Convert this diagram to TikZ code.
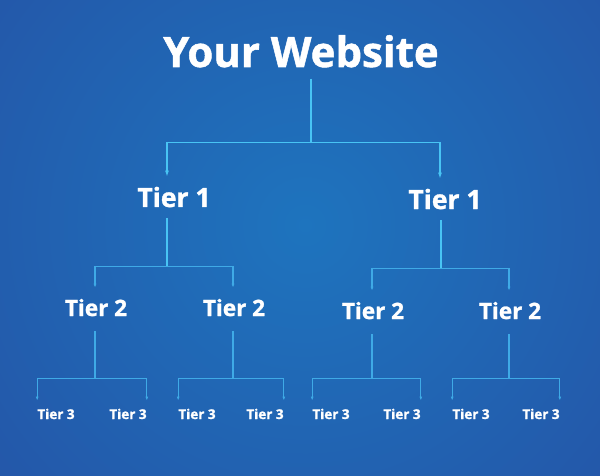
\documentclass[tikz,border=0pt]{standalone}
\usepackage{fontspec}
\setmainfont{Open Sans}[BoldFeatures={FakeBold=1.2}]
\usetikzlibrary{arrows.meta}
\definecolor{bgmid}{HTML}{1E74BE}
\definecolor{bgrim}{HTML}{293D96}
\definecolor{wirebright}{HTML}{48C4F4}
\definecolor{wiresoft}{HTML}{3FAAE6}
\tikzset{
  label/.style={text=white,inner sep=0pt,anchor=base},
  sitelabel/.style={label,font=\fontsize{42}{42}\selectfont\bfseries},
  tierone/.style={label,font=\fontsize{26.5}{27}\selectfont\bfseries},
  tiertwo/.style={label,font=\fontsize{22.5}{23}\selectfont\bfseries},
  tierthree/.style={label,font=\fontsize{13.5}{14}\selectfont\bfseries},
  trunk/.style={draw=wirebright,line width=1.5pt},
  twig/.style={draw=wiresoft,line width=1.1pt}
}

\begin{document}
\begin{tikzpicture}[x=1pt,y=-1pt]
  \useasboundingbox (0,0) rectangle (600,476);
  % background
  \begin{scope}
    \clip (0,0) rectangle (600,476);
    \fill[bgrim] (0,0) rectangle (600,476);
    \shade[inner color=bgmid,outer color=bgrim] (305,225) circle (760);
  \end{scope}
  % labels
  \node[sitelabel] (site) at (301,67) {Your Website};
  \node[tierone] (t1l) at (174,207) {Tier 1};
  \node[tierone] (t1r) at (445,209) {Tier 1};
  \node[tiertwo] (t2a) at (96,316) {Tier 2};
  \node[tiertwo] (t2b) at (234,316) {Tier 2};
  \node[tiertwo] (t2c) at (373,319) {Tier 2};
  \node[tiertwo] (t2d) at (510,319) {Tier 2};
  \foreach \name/\x in {a1/56,a2/128,b1/197,b2/265,c1/331,c2/402,d1/471,d2/541}
    \node[tierthree] (\name) at (\x,419) {Tier 3};
  % top level
  \coordinate (j0) at ([shift={(10,75)}]site.south);
  \draw[trunk] ([shift={(10,11)}]site.south) -- (j0);
  \draw[trunk,-{Latex[length=6pt,width=4pt]}] (j0) -| ([shift={(-7,-10)}]t1l.north);
  \draw[trunk,-{Latex[length=6pt,width=4pt]}] (j0) -| ([shift={(-5,-10)}]t1r.north);
  % tier 1 to tier 2
  \foreach \up/\lo/\hi/\dx in {t1l/t2a/t2b/-7,t1r/t2c/t2d/-4} {
    \coordinate (j1) at ([shift={(\dx,59)}]\up.south);
    \draw[trunk] ([shift={(\dx,11)}]\up.south) -- (j1);
    \draw[twig,-{Latex[length=4pt,width=3pt]}] (j1) -| ([shift={(-1,-11)}]\lo.north);
    \draw[twig,-{Latex[length=4pt,width=3pt]}] (j1) -| ([shift={(-1,-11)}]\hi.north);
  }
  % tier 2 to tier 3
  \foreach \up/\lo/\hi/\dy in {t2a/a1/a2/62,t2b/b1/b2/62,t2c/c1/c2/59,t2d/d1/d2/59} {
    \coordinate (j2) at ([shift={(-1,\dy)}]\up.south);
    \draw[twig] ([shift={(-1,15)}]\up.south) -- (j2);
    \draw[twig,-{Latex[length=4pt,width=3pt]}] (j2) -| ([shift={(0,-8)}]\lo.north west);
    \draw[twig,-{Latex[length=4pt,width=3pt]}] (j2) -| ([shift={(0,-8)}]\hi.north east);
  }
\end{tikzpicture}
\end{document}
